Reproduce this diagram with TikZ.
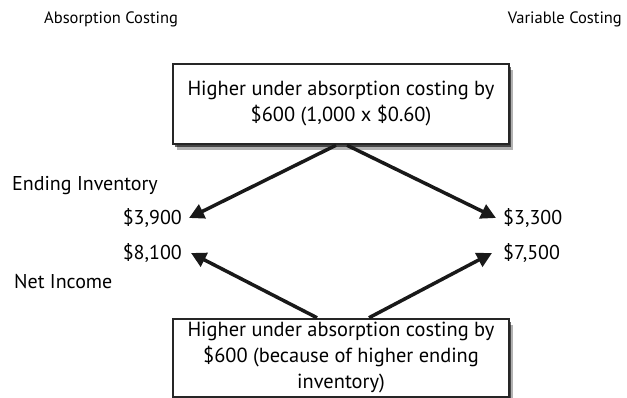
\documentclass[tikz,border=0pt]{standalone}
\usepackage{fontspec}
\setmainfont{PT Sans}
\usetikzlibrary{positioning,shadows,arrows.meta}

\begin{document}
\begin{tikzpicture}
        [x=1pt,y=-1pt,>={Triangle[length=15pt,width=15pt]},
         txt/.style={inner sep=0pt,font=\fontsize{20}{24}\selectfont},
         head/.style={inner sep=0pt,font=\fontsize{16.5}{20}\selectfont},
         result/.style={draw=black!85,line width=2.5pt,fill=white,align=center,
            minimum width=336pt,
            drop shadow={shadow xshift=3.5pt,shadow yshift=-6pt,fill=black,opacity=0.3},
            drop shadow={shadow xshift=2pt,shadow yshift=-3.5pt,fill=black,opacity=0.6},
            font=\fontsize{20.4}{26}\selectfont},
         link/.style={->,line width=3.5pt,black!90}]

        \useasboundingbox (0,0) rectangle (627,398);

        % column headings
        \node[head,anchor=west] (absorb) at (44,19) {Absorption Costing};
        \node[head,anchor=east] (variable) at (622,19) {Variable Costing};

        % amounts
        \node[txt,anchor=west] (endinv) at (12,186) {Ending Inventory};
        \node[txt,anchor=east] (absinv) at (182,218) {\$3,900};
        \node[txt,anchor=east] (absinc) at (182,253) {\$8,100};
        \node[txt,anchor=west] (netinc) at (14,282) {Net Income};
        \node[txt,anchor=west] (varinv) at (503,218) {\$3,300};
        \node[txt,anchor=west] (varinc) at (503,253) {\$7,500};

        % differences
        \node[result,minimum height=80pt] (topbox) at (341,104)
            {Higher under absorption costing by\\\$600 (1,000 x \$0.60)};
        \node[result,minimum height=78pt] (botbox) at (341,358)
            {Higher under absorption costing by\\\$600 (because of higher ending\\inventory)};

        \draw[link] ([xshift=-5pt]topbox.south) -- ([xshift=7pt]absinv.east);
        \draw[link] ([xshift=6pt]topbox.south) -- ([xshift=-7pt]varinv.west);
        \draw[link] ([xshift=-24pt]botbox.north) -- ([xshift=9pt]absinc.east);
        \draw[link] ([xshift=28pt]botbox.north) -- ([xshift=-11pt]varinc.west);

\end{tikzpicture}
\end{document}
